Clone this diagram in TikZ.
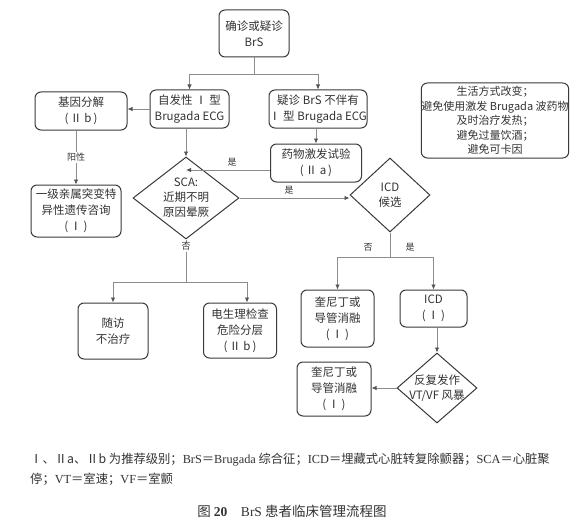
\documentclass[tikz,border=0pt]{standalone}
\usepackage{fontspec}
\setmainfont{Noto Sans CJK SC}
\newfontfamily\serifl{Liberation Serif}
\usetikzlibrary{shapes.geometric,arrows.meta,calc}
\definecolor{bd}{HTML}{3A3A3A}
\definecolor{ln}{HTML}{8C8C8C}
\definecolor{ah}{HTML}{555555}
\definecolor{tx}{HTML}{333333}
\begin{document}
\begin{tikzpicture}[x=1pt,y=-1pt,
 box/.style={draw=bd, line width=1pt, rounded corners=6pt, align=center, inner sep=0pt, font=\fontsize{11.5}{16}\selectfont, text=tx},
 dia/.style={draw=bd, line width=1pt, diamond, align=center, inner sep=0pt, font=\fontsize{11.5}{15}\selectfont, text=tx},
 line/.style={draw=ln, line width=0.8pt},
 arr/.style={line, -{Latex[length=5pt,width=4.5pt,color=ah]}},
 lab/.style={font=\fontsize{9}{10}\selectfont, text=tx, inner sep=1pt},
]
\useasboundingbox (0,0) rectangle (584,527);
\fill[white] (0,0) rectangle (584,527);

% nodes
\node[box, minimum width=70pt, minimum height=47pt] (top) at (254,33.5) {确诊或疑诊\\BrS};
\node[box, minimum width=79pt, minimum height=38pt] (sp) at (189.5,109) {自发性 Ⅰ 型\\Brugada ECG};
\node[box, minimum width=98pt, minimum height=38pt] (ys) at (318,109) {疑诊 BrS 不伴有\\Ⅰ 型 Brugada ECG};
\node[box, minimum width=92pt, minimum height=38pt] (gene) at (81,111) {基因分解\\(\,Ⅱ b\,)};
\node[box, minimum width=90pt, minimum height=52pt] (fam) at (76,211) {一级亲属突变特\\异性遗传咨询\\(\,Ⅰ\,)};
\node[box, minimum width=91pt, minimum height=38pt] (drug) at (316,163) {药物激发试验\\(\,Ⅱ a\,)};
\node[dia, shape aspect=1.3, minimum width=106pt, minimum height=82pt] (sca) at (186,198) {SCA:\\近期不明\\原因晕厥};
\node[dia, minimum width=80pt, minimum height=74pt] (icd) at (390,195) {ICD\\候选};
\node[box, minimum width=73pt, minimum height=57pt] (q1) at (337.5,318.5) {奎尼丁或\\导管消融\\(\,Ⅰ\,)};
\node[box, minimum width=67pt, minimum height=37pt] (icdb) at (433.5,308.5) {ICD\\(\,Ⅰ\,)};
\node[dia, inner sep=-9pt, minimum width=80pt, minimum height=70pt] (vt) at (437,388) {反复发作\\VT/VF 风暴};
\node[box, minimum width=74pt, minimum height=54pt] (q2) at (334,389) {奎尼丁或\\导管消融\\(\,Ⅰ\,)};
\node[box, minimum width=70pt, minimum height=56pt] (fu) at (113,331) {随访\\不治疗};
\node[box, minimum width=73pt, minimum height=55pt] (ep) at (240,330.5) {电生理检查\\危险分层\\(\,Ⅱ b\,)};
\node[box, minimum width=146pt, minimum height=75pt, font=\fontsize{11}{14.5}\selectfont] (life) at (495,120.5) {生活方式改变；\\避免使用激发 Brugada 波药物\\及时治疗发热；\\避免过量饮酒；\\避免可卡因};

% connectors
\coordinate (j1) at (254,74);
\draw[line] (top.south) -- (j1);
\draw[arr] (j1) -| (sp.north);
\draw[arr] (j1) -| (ys.north);
\draw[arr] (sp.west) -- (sp.west -| gene.east);
\draw[arr] (gene.south -| fam.north) -- node[lab, fill=white] {阳性} (fam.north);
\draw[arr] (sp.south -| sca.north) -- (sca.north);
\draw[arr] (ys.south -| drug.north) -- (drug.north);
\draw[arr] ([yshift=-7pt]drug.west) -- node[lab, above=2pt, pos=0.45] {是} ([yshift=-7pt]drug.west -| sca.north);
\draw[arr] (sca.east) -- node[lab, above=2pt, pos=0.45] {是} (sca.east -| icd.west);

\coordinate (j2) at (390,257);
\draw[line] (icd.south) -- (j2);
\draw[arr] (j2) -| (q1.north);
\draw[arr] (j2) -| (icdb.north);
\node[lab] (no1) at (368,247) {否};
\node[lab] (yes1) at (410,247) {是};
\draw[arr] (vt.north |- icdb.south) -- (vt.north);
\draw[arr] (vt.west) -- (vt.west -| q2.east);

\coordinate (j3) at (186,282);
\draw[line] (sca.south) -- node[lab, fill=white, pos=0.17] {否} (j3);
\draw[arr] (j3) -| (fu.north);
\draw[arr] (j3) -| ([xshift=7pt]ep.north);

% caption
\node[anchor=west, inner sep=0pt, font=\fontsize{12.3}{14}\selectfont, text=tx] (cap1) at (30,460)
 {Ⅰ、Ⅱa、Ⅱb 为推荐级别；{\serifl BrS}＝{\serifl Brugada} 综合征；{\serifl ICD}＝埋藏式心脏转复除颤器；{\serifl SCA}＝心脏聚};
\node[anchor=west, inner sep=0pt, font=\fontsize{12.3}{14}\selectfont, text=tx] (cap2) at (30,479)
 {停；{\serifl VT}＝室速；{\serifl VF}＝室颤};
\node[inner sep=0pt, font=\fontsize{13.5}{15}\selectfont, text=tx] (title) at (292,511)
 {图 {\serifl\bfseries 20}\quad {\serifl BrS} 患者临床管理流程图};
\end{tikzpicture}
\end{document}
